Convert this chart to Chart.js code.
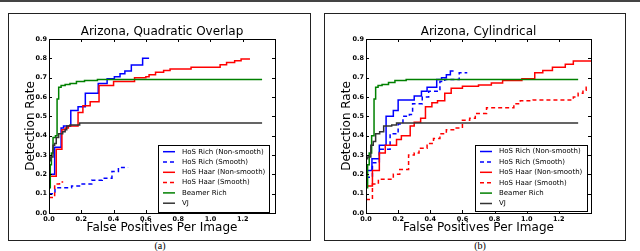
<!DOCTYPE html>
<html>
<head>
<meta charset="utf-8">
<script src="https://cdn.jsdelivr.net/npm/chart.js@4.4.0/dist/chart.umd.min.js"></script>
<style>
body { margin: 0; background: #fff; }
#page { position: relative; width: 640px; height: 251px; overflow: hidden; background: #fff; }
.topbar { position: absolute; left: 0; top: 0; width: 640px; height: 2px; background: #444; }
.frame { position: absolute; top: 13px; height: 228px; border: 1px solid #222; box-sizing: border-box; }
canvas { position: absolute; }
.cap { position: absolute; top: 240px; width: 40px; text-align: center; font: 10px "Liberation Serif", serif; color: #000; }
</style>
</head>
<body>
<div id="page">
  <div class="topbar"></div>
  <div class="frame" style="left:8px;width:303px"></div>
  <div class="frame" style="left:324px;width:302px"></div>
  <canvas id="quad" width="300" height="226" style="left:9px;top:14px"></canvas>
  <canvas id="cyl" width="300" height="226" style="left:325px;top:14px"></canvas>
  <div class="cap" style="left:140px">(a)</div>
  <div class="cap" style="left:460px">(b)</div>
</div>
<script>
const seriesLabels = ["HoS Rich (Non-smooth)", "HoS Rich (Smooth)", "HoS Haar (Non-smooth)", "HoS Haar (Smooth)", "Beamer Rich", "VJ"];
const xTickMax = 1.4;
const yTickMax = 0.9;

// (a) Arizona, Quadratic Overlap
const quadRichX = [0, 0.035, 0.075, 0.09, 0.135, 0.18, 0.225, 0.305, 0.36, 0.405, 0.44, 0.47, 0.51, 0.58, 0.62];
const quadRichY = [0.2, 0.34, 0.44, 0.45, 0.53, 0.55, 0.62, 0.67, 0.695, 0.705, 0.72, 0.735, 0.765, 0.8, 0.8];
const quadRichSmX = [0, 0.037, 0.14, 0.2, 0.265, 0.33, 0.39, 0.43, 0.49];
const quadRichSmY = [0.1, 0.13, 0.14, 0.15, 0.17, 0.18, 0.215, 0.235, 0.235];
const quadHaarX = [0, 0.045, 0.08, 0.1, 0.12, 0.18, 0.21, 0.255, 0.31, 0.4, 0.53, 0.6, 0.62, 0.66, 0.71, 0.75, 0.88, 1.06, 1.1, 1.15, 1.19, 1.245];
const quadHaarY = [0.19, 0.33, 0.43, 0.44, 0.45, 0.52, 0.555, 0.575, 0.66, 0.68, 0.7, 0.705, 0.715, 0.728, 0.737, 0.745, 0.754, 0.767, 0.779, 0.788, 0.797, 0.797];
const quadHaarSmX = [0, 0.035, 0.065, 0.088];
const quadHaarSmY = [0.08, 0.15, 0.16, 0.16];
const quadBeamerX = [0, 0.008, 0.015, 0.025, 0.04, 0.05, 0.06, 0.075, 0.1, 0.13, 0.17, 0.22, 0.3, 1.32];
const quadBeamerY = [0.13, 0.25, 0.31, 0.39, 0.4, 0.59, 0.65, 0.66, 0.665, 0.67, 0.68, 0.685, 0.69, 0.69];
const quadVjX = [0, 0.01, 0.025, 0.035, 0.045, 0.06, 0.085, 0.1, 0.11, 0.13, 0.19, 1.32];
const quadVjY = [0.27, 0.29, 0.35, 0.36, 0.39, 0.41, 0.42, 0.43, 0.45, 0.455, 0.465, 0.465];

// (b) Arizona, Cylindrical
const cylRichX = [0, 0.037, 0.083, 0.125, 0.17, 0.2, 0.3, 0.345, 0.38, 0.44, 0.47, 0.5, 0.525, 0.545];
const cylRichY = [0.22, 0.28, 0.35, 0.5, 0.53, 0.585, 0.605, 0.63, 0.65, 0.69, 0.7, 0.715, 0.735, 0.735];
const cylRichSmX = [0, 0.04, 0.083, 0.15, 0.2, 0.23, 0.27, 0.29, 0.35, 0.39, 0.46, 0.49, 0.55, 0.58, 0.63];
const cylRichSmY = [0.185, 0.26, 0.33, 0.41, 0.46, 0.5, 0.51, 0.565, 0.6, 0.63, 0.68, 0.69, 0.69, 0.725, 0.725];
const cylHaarX = [0, 0.04, 0.083, 0.12, 0.19, 0.22, 0.275, 0.3, 0.34, 0.37, 0.41, 0.445, 0.49, 0.53, 0.6, 0.7, 0.78, 0.85, 0.97, 1.05, 1.1, 1.16, 1.24, 1.29, 1.4];
const cylHaarY = [0.14, 0.22, 0.31, 0.35, 0.38, 0.4, 0.45, 0.47, 0.49, 0.55, 0.57, 0.58, 0.62, 0.645, 0.655, 0.662, 0.672, 0.685, 0.695, 0.726, 0.737, 0.754, 0.769, 0.786, 0.786];
const cylHaarSmX = [0, 0.04, 0.077, 0.17, 0.21, 0.265, 0.3, 0.33, 0.38, 0.42, 0.46, 0.5, 0.545, 0.6, 0.645, 0.68, 0.75, 0.92, 0.96, 1.04, 1.29, 1.32, 1.35, 1.37, 1.39];
const cylHaarSmY = [0.07, 0.15, 0.175, 0.2, 0.225, 0.3, 0.31, 0.335, 0.36, 0.385, 0.41, 0.43, 0.44, 0.48, 0.49, 0.515, 0.545, 0.565, 0.58, 0.585, 0.6, 0.62, 0.635, 0.65, 0.65];
const cylBeamerX = [0, 0.01, 0.02, 0.035, 0.05, 0.06, 0.075, 0.1, 0.14, 0.18, 0.25, 1.32];
const cylBeamerY = [0.13, 0.25, 0.31, 0.4, 0.59, 0.65, 0.66, 0.665, 0.675, 0.685, 0.69, 0.69];
const cylVjX = [0, 0.01, 0.03, 0.045, 0.06, 0.085, 0.11, 0.16, 0.19, 1.32];
const cylVjY = [0.28, 0.29, 0.35, 0.37, 0.41, 0.42, 0.45, 0.455, 0.465, 0.465];

const lineColors = ["#0000ff", "#0000ff", "#ff0000", "#ff0000", "#008000", "#333333"];
const lineDashes = [[], [4, 3], [], [4, 3], [], []];

function pts(xs, ys) {
    return xs.map((x, i) => ({ x: x, y: ys[i] }));
}

// matplotlib look: inward ticks, box, title, legend inside the axes
const mplDecor = {
    id: "mplDecor",
    afterDatasetsDraw(chart, args, opts) {
        const ctx = chart.ctx;
        const a = chart.chartArea;
        const sx = chart.scales.x;
        const sy = chart.scales.y;
        ctx.save();
        ctx.strokeStyle = "#000";
        ctx.lineWidth = 1;
        ctx.beginPath();
        sx.ticks.forEach((t) => {
            const px = Math.round(sx.getPixelForValue(t.value)) + 0.5;
            ctx.moveTo(px, a.bottom);
            ctx.lineTo(px, a.bottom - 3);
            ctx.moveTo(px, a.top);
            ctx.lineTo(px, a.top + 3);
        });
        sy.ticks.forEach((t) => {
            const py = Math.round(sy.getPixelForValue(t.value)) + 0.5;
            ctx.moveTo(a.left, py);
            ctx.lineTo(a.left + 3, py);
            ctx.moveTo(a.right, py);
            ctx.lineTo(a.right - 3, py);
        });
        ctx.stroke();
        ctx.strokeRect(Math.round(a.left) + 0.5, Math.round(a.top) + 0.5, Math.round(a.width), Math.round(a.height));

        ctx.fillStyle = "#000";
        ctx.font = '12px "DejaVu Sans"';
        ctx.textAlign = "center";
        ctx.textBaseline = "alphabetic";
        ctx.fillText(opts.title, (a.left + a.right) / 2, a.top - 4);

        const L = opts.legend;
        const bx = Math.round(a.right - L.right - L.width);
        const by = Math.round(a.bottom - L.bottom - L.height);
        ctx.fillStyle = "#fff";
        ctx.fillRect(bx, by, L.width, L.height);
        ctx.strokeRect(bx + 0.5, by + 0.5, L.width, L.height);
        ctx.font = '7px "DejaVu Sans"';
        ctx.textAlign = "left";
        ctx.textBaseline = "middle";
        chart.data.datasets.forEach((ds, i) => {
            const y = by + L.first + i * L.step;
            ctx.strokeStyle = ds.borderColor;
            ctx.lineWidth = 1.5;
            ctx.setLineDash(ds.borderDash);
            ctx.beginPath();
            ctx.moveTo(bx + 5, y);
            ctx.lineTo(bx + 17, y);
            ctx.stroke();
            ctx.setLineDash([]);
            ctx.fillStyle = "#000";
            ctx.fillText(ds.label, bx + 24, y);
        });
        ctx.restore();
    },
};

function makeChart(id, series, title, legend, leftW, rightPad) {
    const datasets = series.map((s, i) => ({
        label: seriesLabels[i],
        data: pts(s[0], s[1]),
        borderColor: lineColors[i],
        borderDash: lineDashes[i],
        borderWidth: 1.5,
        pointRadius: 0,
        stepped: true,
        fill: false,
        order: series.length - 1 - i,
    }));
    return new Chart(document.getElementById(id), {
        type: "line",
        data: { datasets: datasets },
        plugins: [mplDecor],
        options: {
            responsive: false,
            animation: false,
            devicePixelRatio: 1,
            layout: { padding: { top: 25, right: rightPad, left: 0, bottom: 0 } },
            plugins: {
                legend: { display: false },
                tooltip: { enabled: false },
                mplDecor: { title: title, legend: legend },
            },
            scales: {
                x: {
                    type: "linear",
                    min: 0,
                    max: xTickMax,
                    grid: { display: false, drawTicks: false },
                    border: { display: false },
                    afterFit: (s) => { s.height = 27; },
                    ticks: {
                        stepSize: 0.2,
                        padding: 2,
                        maxRotation: 0,
                        color: "#000",
                        font: { family: "DejaVu Sans", size: 6.5, weight: "bold" },
                        callback: (v) => (v > 1.3 ? "" : v.toFixed(1)),
                    },
                    title: {
                        display: true,
                        text: "False Positives Per Image",
                        color: "#000",
                        font: { family: "DejaVu Sans", size: 12, lineHeight: 1 },
                        padding: { top: 0, bottom: 6 },
                    },
                },
                y: {
                    min: 0,
                    max: yTickMax,
                    grid: { display: false, drawTicks: false },
                    border: { display: false },
                    afterFit: (s) => { s.width = leftW; },
                    ticks: {
                        stepSize: 0.1,
                        padding: 2,
                        color: "#000",
                        font: { family: "DejaVu Sans", size: 6.5, weight: "bold" },
                        callback: (v) => v.toFixed(1),
                    },
                    title: {
                        display: true,
                        text: "Detection Rate",
                        color: "#000",
                        font: { family: "DejaVu Sans", size: 12, lineHeight: 1 },
                        padding: { top: 16, bottom: 0 },
                    },
                },
            },
        },
    });
}

makeChart("quad", [
    [quadRichX, quadRichY],
    [quadRichSmX, quadRichSmY],
    [quadHaarX, quadHaarY],
    [quadHaarSmX, quadHaarSmY],
    [quadBeamerX, quadBeamerY],
    [quadVjX, quadVjY],
], "Arizona, Quadratic Overlap", { right: 6, bottom: 1, width: 111, height: 67, first: 6.7, step: 10.3 }, 40, 34);

makeChart("cyl", [
    [cylRichX, cylRichY],
    [cylRichSmX, cylRichSmY],
    [cylHaarX, cylHaarY],
    [cylHaarSmX, cylHaarSmY],
    [cylBeamerX, cylBeamerY],
    [cylVjX, cylVjY],
], "Arizona, Cylindrical", { right: 4, bottom: 2, width: 112, height: 66, first: 6.5, step: 10.4 }, 41, 34);
</script>
</body>
</html>
